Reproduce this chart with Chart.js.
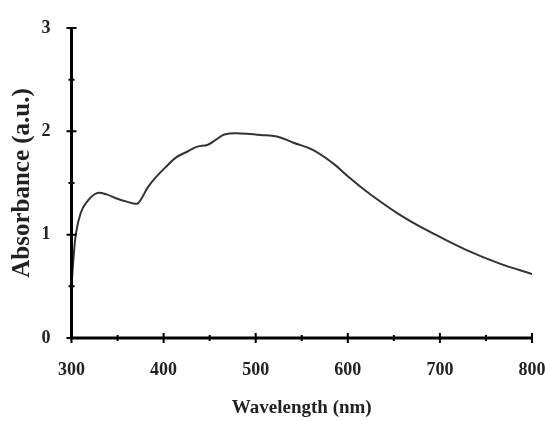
<!DOCTYPE html>
<html>
<head>
<meta charset="utf-8">
<script src="https://cdn.jsdelivr.net/npm/chart.js@4/dist/chart.umd.min.js"></script>
<style>
html,body{margin:0;padding:0;background:#fff;}
#wrap{width:545px;height:421px;}
</style>
</head>
<body>
<div id="wrap"><canvas id="c" width="545" height="421"></canvas></div>
<script>
// wavelength (nm) and absorbance
var wavelength=[300,302,305,310,316,327,338,349,360,371,376,383,392,403,414,425,436,448,457,466,483,505,523,541,562,584,602,620,657,693,729,765,800];
var absorbance=[0.50,0.75,1.02,1.21,1.31,1.40,1.39,1.35,1.32,1.30,1.35,1.46,1.56,1.66,1.75,1.80,1.85,1.87,1.92,1.97,1.98,1.965,1.95,1.89,1.82,1.69,1.55,1.42,1.19,1.01,0.85,0.72,0.62];
var xTicks=[300,400,500,600,700,800];
var yTicks=[0,1,2,3];

var pts=[];
for(var i=0;i<wavelength.length;i++)pts.push({x:wavelength[i],y:absorbance[i]});

// axes drawn as thick lines with ticks crossing them
var axesPlugin={
  id:'axes',
  afterDatasetsDraw:function(chart){
    var ctx=chart.ctx,xs=chart.scales.x,ys=chart.scales.y;
    var x0=xs.getPixelForValue(300),y0=ys.getPixelForValue(0);
    ctx.save();
    ctx.strokeStyle='#000';
    ctx.lineWidth=3;
    ctx.beginPath();
    ctx.moveTo(x0,ys.getPixelForValue(3));
    ctx.lineTo(x0,y0);
    ctx.lineTo(xs.getPixelForValue(800),y0);
    ctx.stroke();
    ctx.lineWidth=2;
    ctx.beginPath();
    for(var v=300;v<=800;v+=50){
      var px=xs.getPixelForValue(v),h=(v%100==0)?5:3;
      ctx.moveTo(px,y0-h);ctx.lineTo(px,y0+h);
    }
    for(var a=0;a<=3;a+=0.5){
      var py=ys.getPixelForValue(a),w=(a%1==0)?5:3;
      ctx.moveTo(x0-w,py);ctx.lineTo(x0+w,py);
    }
    ctx.stroke();
    ctx.restore();
  }
};

new Chart(document.getElementById('c').getContext('2d'),{
  type:'line',
  data:{datasets:[{
    data:pts,
    borderColor:'#333',
    borderWidth:2,
    pointRadius:0,
    tension:0.4,
    fill:false
  }]},
  options:{
    responsive:false,
    animation:false,
    layout:{padding:{left:0,top:28,right:13,bottom:0}},
    plugins:{legend:{display:false},tooltip:{enabled:false}},
    scales:{
      x:{
        type:'linear',min:300,max:800,
        afterFit:function(s){s.height=83;s.paddingLeft=0;s.paddingRight=0;},
        grid:{display:false},border:{display:false},
        ticks:{stepSize:50,padding:14,color:'#222',maxRotation:0,autoSkip:false,
          font:{family:'Liberation Serif',size:18,weight:'bold'},
          callback:function(v){return xTicks.indexOf(v)>=0?String(v):'';}},
        title:{display:true,text:'Wavelength (nm)',color:'#222',padding:{top:0,bottom:2},
          font:{family:'Liberation Serif',size:19,weight:'bold'}}
      },
      y:{
        min:0,max:3,
        afterFit:function(s){s.width=71.5;},
        grid:{display:false},border:{display:false},
        ticks:{stepSize:0.5,padding:13,color:'#222',autoSkip:false,
          font:{family:'Liberation Serif',size:18,weight:'bold'},
          callback:function(v){return yTicks.indexOf(v)>=0?String(v):'';}},
        title:{display:true,text:'Absorbance (a.u.)',color:'#222',padding:{top:8,bottom:0},
          font:{family:'Liberation Serif',size:25,weight:'bold'}}
      }
    }
  },
  plugins:[axesPlugin]
});
</script>
</body>
</html>
